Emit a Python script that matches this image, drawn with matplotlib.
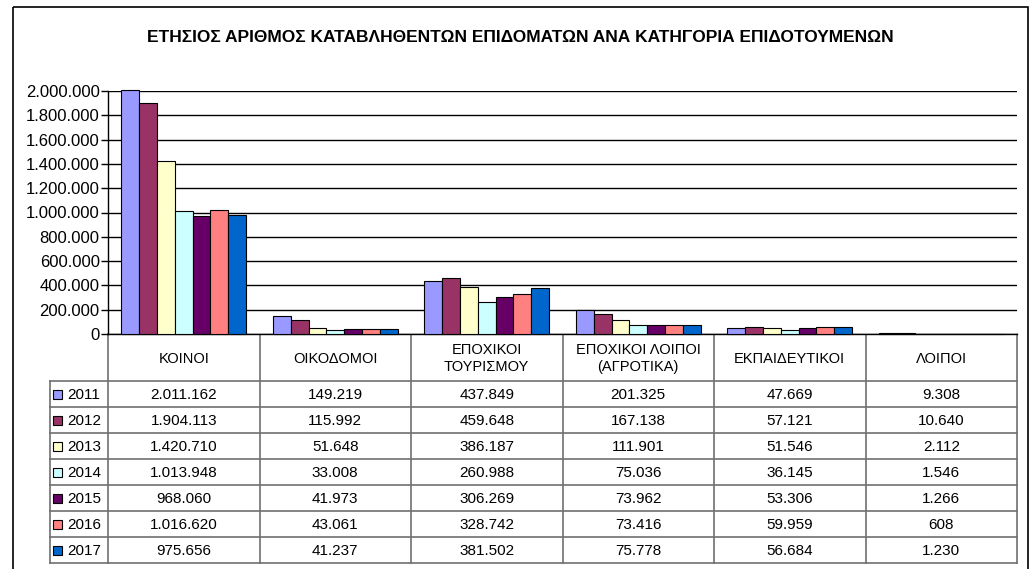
import numpy as np
import matplotlib
matplotlib.use('Agg')
import matplotlib.pyplot as plt
from matplotlib.patches import Rectangle

plt.rcParams['font.family'] = ['Liberation Sans', 'DejaVu Sans']

title = 'ΕΤΗΣΙΟΣ ΑΡΙΘΜΟΣ ΚΑΤΑΒΛΗΘΕΝΤΩΝ ΕΠΙΔΟΜΑΤΩΝ ΑΝΑ ΚΑΤΗΓΟΡΙΑ ΕΠΙΔΟΤΟΥΜΕΝΩΝ'
categories = ['ΚΟΙΝΟΙ', 'ΟΙΚΟΔΟΜΟΙ', 'ΕΠΟΧΙΚΟΙ\nΤΟΥΡΙΣΜΟΥ',
              'ΕΠΟΧΙΚΟΙ ΛΟΙΠΟΙ\n(ΑΓΡΟΤΙΚΑ)', 'ΕΚΠΑΙΔΕΥΤΙΚΟΙ', 'ΛΟΙΠΟΙ']
years = ['2011', '2012', '2013', '2014', '2015', '2016', '2017']
colors = ['#9999FF', '#993366', '#FFFFCC', '#CCFFFF', '#660066', '#FF8080', '#0066CC']

v2011 = [2011162, 149219, 437849, 201325, 47669, 9308]
v2012 = [1904113, 115992, 459648, 167138, 57121, 10640]
v2013 = [1420710, 51648, 386187, 111901, 51546, 2112]
v2014 = [1013948, 33008, 260988, 75036, 36145, 1546]
v2015 = [968060, 41973, 306269, 73962, 53306, 1266]
v2016 = [1016620, 43061, 328742, 73416, 59959, 608]
v2017 = [975656, 41237, 381502, 75778, 56684, 1230]
series = [v2011, v2012, v2013, v2014, v2015, v2016, v2017]


def fmt(v):
    return f'{v:,}'.replace(',', '.')


W, H = 1031, 569
fig = plt.figure(figsize=(W / 100, H / 100), dpi=100)

# overlay in pixel coordinates for border, title and table
ov = fig.add_axes([0, 0, 1, 1])
ov.set_xlim(0, W)
ov.set_ylim(H, 0)
ov.axis('off')

# plot area in pixels
x0, x1 = 108, 1017
y_top, y_zero = 91, 334
colw = (x1 - x0) / len(categories)

ax = fig.add_axes([x0 / W, (H - y_zero) / H, (x1 - x0) / W, (y_zero - y_top) / H])
n = len(series)
bw = 1 / (n + 1.5)
xc = np.arange(len(categories))
for k, vals in enumerate(series):
    ax.bar(xc + 0.5 + (k - (n - 1) / 2) * bw, vals, bw, color=colors[k],
           edgecolor='black', linewidth=0.8, clip_on=False, zorder=3)
ax.set_xlim(0, len(categories))
ax.set_ylim(0, 2000000)
ax.set_yticks(np.arange(0, 2000001, 200000))
ax.set_yticklabels([fmt(t) for t in range(0, 2000001, 200000)], fontsize=12)
ax.tick_params(axis='y', length=5, width=1, pad=1, direction='out')
ax.set_xticks([])
ax.yaxis.grid(True, color='black', linewidth=1)
ax.set_axisbelow(True)
for s in ['top', 'right']:
    ax.spines[s].set_visible(False)
ax.spines['left'].set_linewidth(1)
ax.spines['bottom'].set_linewidth(1)

# chart border
ov.add_patch(Rectangle((13, 7), 1015, 570, fill=False, edgecolor='black', linewidth=1.2))
ov.text((13 + 1028) / 2, 37, title, ha='center', va='center', fontsize=12.5, fontweight='bold')

# table
hdr_bot = 381
rowh = 26
tab_left = 50
tab_bot = hdr_bot + rowh * n
gray = '#707070'
for i in range(len(categories) + 1):
    xx = x0 + i * colw
    ov.plot([xx, xx], [y_zero, tab_bot], color=gray, linewidth=1.2)
ov.plot([tab_left, tab_left], [hdr_bot, tab_bot], color=gray, linewidth=1.2)
for r in range(n + 1):
    yy = hdr_bot + r * rowh
    ov.plot([tab_left, x1], [yy, yy], color=gray, linewidth=1.2)

for i, c in enumerate(categories):
    ov.text(x0 + (i + 0.5) * colw, (y_zero + hdr_bot) / 2 + 1, c, ha='center', va='center',
            fontsize=10.5, linespacing=1.2)

for r, (yr, vals) in enumerate(zip(years, series)):
    yc = hdr_bot + (r + 0.5) * rowh + 1
    ov.add_patch(Rectangle((53, yc - 5), 9, 9, facecolor=colors[r], edgecolor='black', linewidth=0.8))
    ov.text(67, yc, yr, ha='left', va='center', fontsize=11)
    for i, v in enumerate(vals):
        ov.text(x0 + (i + 0.5) * colw, yc, fmt(v), ha='center', va='center', fontsize=11)

fig.savefig('out.png', dpi=100)
